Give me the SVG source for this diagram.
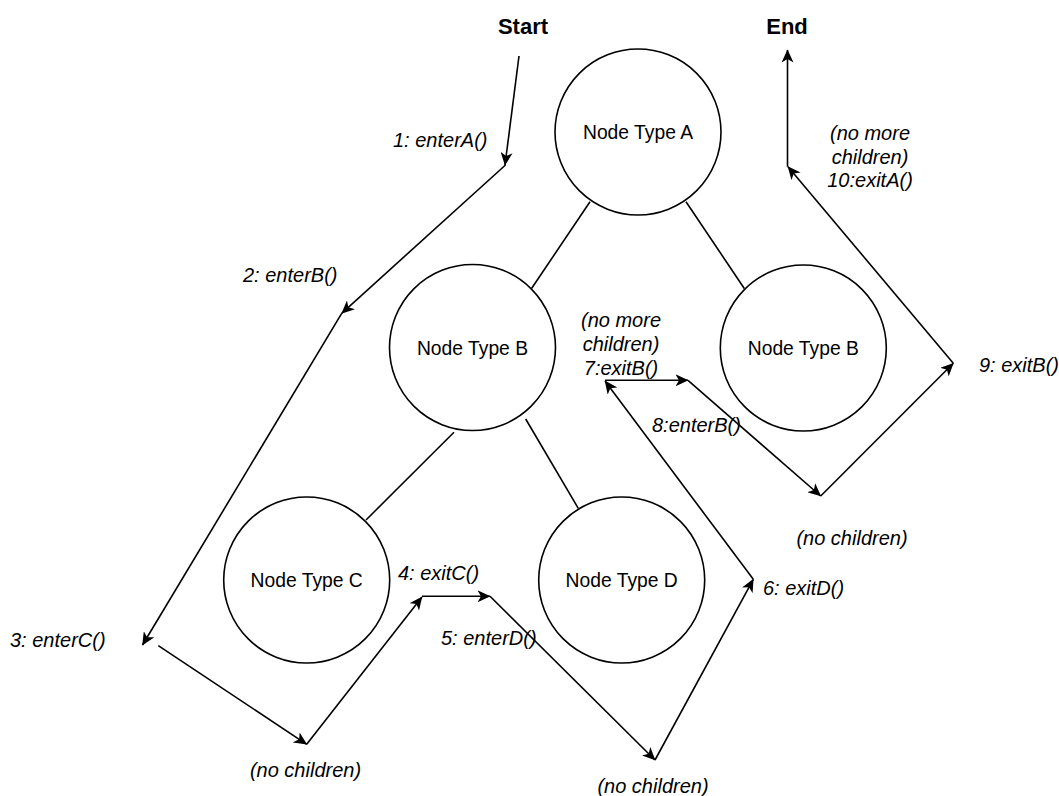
<svg xmlns="http://www.w3.org/2000/svg" width="1059" height="796" viewBox="0 0 1059 796">
<style>
.node circle{fill:#fff;stroke:#000;stroke-width:1.6}
.node text{font-family:"Liberation Sans",Arial,sans-serif;font-size:19.3px;text-anchor:middle;fill:#000}
.edge{stroke:#000;stroke-width:1.6;fill:none}
.arr{stroke:#000;stroke-width:1.6;fill:none;marker-end:url(#ah)}
.lbl{font-family:"Liberation Sans",Arial,sans-serif;font-size:20px;font-style:italic;fill:#000}
.mid{text-anchor:middle}
.title{font-family:"Liberation Sans",Arial,sans-serif;font-size:22px;font-weight:bold;text-anchor:middle;fill:#000}
</style>
<defs>
<marker id="ah" markerUnits="userSpaceOnUse" markerWidth="14" markerHeight="12" viewBox="0 0 14 12" refX="12.5" refY="6" orient="auto">
<path d="M0,0 L13,6 L0,12 L3.5,6 z" fill="#000"/>
</marker>
</defs>
<rect width="1059" height="796" fill="#fff"/>
<text class="title" x="523" y="34">Start</text>
<text class="title" x="787" y="34">End</text>
<g id="tree-edges">
<line class="edge" x1="590" y1="201.7" x2="531.7" y2="288.3"/>
<line class="edge" x1="686" y1="201.7" x2="744.3" y2="288.5"/>
<line class="edge" x1="454" y1="432.3" x2="366" y2="520"/>
<line class="edge" x1="525.7" y1="419" x2="578.3" y2="508.3"/>
</g>
<g id="nodeA" class="node"><circle cx="638" cy="132" r="83"/><text x="638" y="139">Node Type A</text></g>
<g id="nodeB1" class="node"><circle cx="472.5" cy="347.5" r="83"/><text x="472.5" y="354.5">Node Type B</text></g>
<g id="nodeB2" class="node"><circle cx="803.3" cy="348" r="83"/><text x="803.3" y="355">Node Type B</text></g>
<g id="nodeC" class="node"><circle cx="306.7" cy="580" r="83"/><text x="306.7" y="587">Node Type C</text></g>
<g id="nodeD" class="node"><circle cx="621.7" cy="580" r="83"/><text x="621.7" y="587">Node Type D</text></g>
<g id="connectors">
<line class="arr" x1="519" y1="56" x2="505" y2="165"/>
<line class="arr" x1="505.5" y1="165" x2="341.7" y2="313.3"/>
<line class="arr" x1="341.7" y1="313.3" x2="142.5" y2="645"/>
<line class="arr" x1="158.3" y1="645.7" x2="306.7" y2="744.3"/>
<line class="arr" x1="306.7" y1="744.3" x2="422" y2="597"/>
<line class="arr" x1="422" y1="596.3" x2="490" y2="596.3"/>
<line class="arr" x1="490" y1="596.3" x2="655" y2="760"/>
<line class="arr" x1="655" y1="760" x2="753.3" y2="579.3"/>
<line class="arr" x1="753.3" y1="579.3" x2="605" y2="381"/>
<line class="arr" x1="605" y1="380.3" x2="688" y2="380.3"/>
<line class="arr" x1="688" y1="380.3" x2="820.7" y2="496"/>
<line class="arr" x1="820.7" y1="496" x2="953.3" y2="363.3"/>
<line class="arr" x1="953.3" y1="363.3" x2="788" y2="166.7"/>
<line class="arr" x1="787.5" y1="166.7" x2="787.5" y2="50"/>
</g>
<g id="labels">
<text class="lbl" x="393" y="147">1: enterA()</text>
<text class="lbl" x="243" y="282">2: enterB()</text>
<text class="lbl" x="10" y="647">3: enterC()</text>
<text class="lbl mid" x="305.5" y="777">(no children)</text>
<text class="lbl" x="398" y="579.5">4: exitC()</text>
<text class="lbl" x="441" y="645">5: enterD()</text>
<text class="lbl mid" x="653" y="793">(no children)</text>
<text class="lbl" x="763" y="595">6: exitD()</text>
<text class="lbl mid" x="621" y="327">(no more</text>
<text class="lbl mid" x="621" y="350.5">children)</text>
<text class="lbl mid" x="621" y="375">7:exitB()</text>
<text class="lbl" x="652" y="432">8:enterB()</text>
<text class="lbl mid" x="852" y="545">(no children)</text>
<text class="lbl" x="979" y="372">9: exitB()</text>
<text class="lbl mid" x="870" y="140">(no more</text>
<text class="lbl mid" x="870" y="163.5">children)</text>
<text class="lbl mid" x="870" y="187">10:exitA()</text>
</g>
</svg>
